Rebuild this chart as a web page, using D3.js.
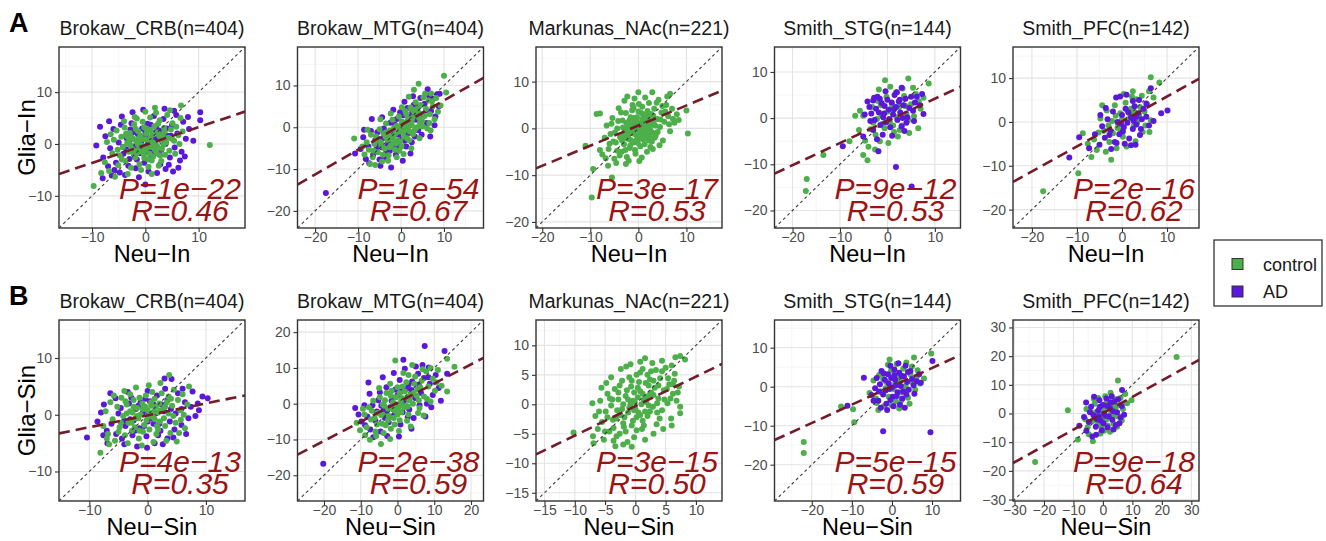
<!DOCTYPE html>
<html>
<head>
<meta charset="utf-8">
<script src="https://cdn.jsdelivr.net/npm/d3@7"></script>
<style>
  body { margin: 0; background: #fff; }
  svg { display: block; }
  text { font-family: "Liberation Sans", Arial, sans-serif; }
</style>
</head>
<body>
<svg id="fig" width="1326" height="541"></svg>
<script>
// ---- cohorts and labels ----
const cohorts = ["Brokaw_CRB(n=404)", "Brokaw_MTG(n=404)", "Markunas_NAc(n=221)", "Smith_STG(n=144)", "Smith_PFC(n=142)"];
const groups = ["control", "AD"];

// ---- intron signal (row A) ----
const inLimits = [[-16.2, 18.7], [-24.1, 19.2], [-21.3, 17.4], [-23.8, 15.4], [-24.2, 17.1]];
const inTicks = [[-10, 0, 10], [-20, -10, 0, 10], [-20, -10, 0, 10], [-20, -10, 0, 10], [-20, -10, 0, 10]];
const inSlope = [0.345, 0.59, 0.43, 0.48, 0.57];
const inIntercept = [-0.2, 0.5, 0.6, -0.6, 0.1];
const inP = ["1e−22", "1e−54", "3e−17", "9e−12", "2e−16"];
const inR = ["0.46", "0.67", "0.53", "0.53", "0.62"];

// ---- splicing signal (row B) ----
const sinLimits = [[-15.2, 16.7], [-27.2, 23.4], [-16.4, 14.3], [-29.3, 17.1], [-30.5, 32.6]];
const sinTicks = [[-10, 0, 10], [-20, -10, 0, 10, 20], [-15, -10, -5, 0, 5, 10], [-20, -10, 0, 10], [-30, -20, -10, 0, 10, 20, 30]];
const sinSlope = [0.21, 0.535, 0.5, 0.47, 0.57];
const sinIntercept = [-0.1, 0.3, -0.3, 0.1, 0.1];
const sinP = ["4e−13", "2e−38", "3e−15", "5e−15", "9e−18"];
const sinR = ["0.35", "0.59", "0.50", "0.59", "0.64"];

// ---- per-sample scores [neuron, glia] ----
const crbInControl = [[-9.7,-8.1],[12.1,-0.2],[1.8,7.0],[6.7,7.4],[1.2,-5.8],[-7.6,-3.5],[-6.8,-5.2],[-6.2,-1.8],[-5.9,0.8],[-5.4,2.6],[-5.1,-4.1],[-4.8,-2.2],[-4.5,1.4],[-4.2,-0.6],[-3.9,3.2],[-3.7,-3.3],[-3.4,0.2],[-3.1,-1.5],[-2.9,2.1],[-2.7,-4.6],[-2.5,-0.9],[-2.3,1.0],[-2.1,3.8],[-1.9,-2.6],[-1.7,0.5],[-1.5,-1.2],[-1.3,2.4],[-1.1,-3.9],[-0.9,1.6],[-0.7,-0.3],[-0.5,4.3],[-0.3,-2.0],[-0.1,0.9],[0.1,-1.1],[0.3,2.9],[0.5,-3.0],[0.7,0.4],[0.9,5.1],[1.1,-0.6],[1.3,1.8],[1.5,-2.4],[1.7,3.4],[1.9,0.1],[2.1,-1.6],[2.3,2.2],[2.5,-4.2],[2.7,4.6],[2.9,0.7],[3.1,-0.9],[3.3,1.9],[3.5,3.1],[3.7,-2.1],[3.9,0.3],[4.1,5.6],[4.3,1.2],[4.5,-1.3],[4.8,2.8],[5.1,4.0],[5.4,0.6],[5.8,3.3],[6.2,1.7],[6.6,5.0],[7.0,2.4],[-8.3,-5.6],[-6.5,1.9],[-5.7,-6.3],[-4.0,4.4],[-3.3,-5.8],[-2.0,5.2],[-0.8,-5.0],[0.0,6.2],[0.6,-4.4],[2.0,6.0],[3.0,-3.3],[4.6,6.5],[5.6,-1.9],[6.4,0.0],[-7.2,0.4],[-1.4,-0.1],[0.4,0.0],[1.0,2.6],[-2.6,1.3],[-0.2,-2.7],[1.6,-0.2],[2.4,3.9],[-1.0,0.7],[3.4,-0.2],[-3.6,2.0],[0.8,-1.9],[-4.4,-3.0],[5.0,1.0],[-1.6,4.9],[2.8,-2.2],[-5.2,-1.1],[-3.0,0.9],[-2.2,-1.9],[-1.2,1.1],[-0.4,-0.9],[0.2,2.0],[1.4,0.3],[2.2,-0.4],[3.2,1.4],[-1.8,2.9],[-0.6,-1.5],[0.9,1.1],[2.6,1.6],[-2.8,-0.2],[1.8,-1.1],[-0.2,3.2],[0.4,-0.6],[-1.6,-1.8],[3.6,2.4],[-3.4,1.5],[1.2,-3.2]];
const crbInAD = [[-8.5,3.3],[-9.2,-0.3],[10.3,6.1],[10.3,4.6],[5.4,6.4],[0.0,-7.8],[-7.9,-2.6],[-7.0,-4.3],[-6.6,-0.8],[-6.0,2.9],[-5.5,-3.6],[-5.0,0.3],[-4.6,3.7],[-4.1,-1.9],[-3.8,-6.0],[-3.5,1.1],[-3.0,-2.9],[-2.6,4.0],[-2.2,-0.5],[-1.8,-4.7],[-1.4,1.9],[-1.0,-1.8],[-0.6,3.0],[-0.2,-3.6],[0.2,1.4],[0.6,-5.3],[1.0,3.7],[1.4,-1.4],[1.8,0.9],[2.2,-5.6],[2.6,2.6],[3.0,-1.1],[3.4,4.8],[3.8,-4.8],[4.2,1.6],[4.6,-2.6],[5.0,3.6],[5.5,-0.7],[6.0,2.0],[6.5,-3.2],[7.1,4.3],[7.6,1.0],[8.2,2.9],[9.0,0.6],[-7.5,1.5],[-6.3,-6.1],[-4.4,5.3],[-2.4,6.1],[-0.4,6.6],[1.6,5.4],[3.6,6.8],[5.8,5.6],[-5.8,-5.0],[-3.2,-4.2],[-1.2,-6.4],[0.8,-2.9],[2.8,-3.9],[4.4,-4.0],[6.8,-1.5],[-8.0,-6.6],[-2.8,2.8],[-0.8,0.2],[1.2,-0.2],[3.2,0.4],[5.2,-5.3],[-4.8,-5.5],[0.4,3.9],[2.4,1.1],[-1.6,-3.0],[4.0,3.0],[-3.6,-1.0],[6.2,-4.6],[7.4,-2.4],[-6.8,4.4],[8.0,5.2],[-2.0,-2.5],[-0.8,1.5],[0.6,-0.9],[1.8,2.2],[2.6,-2.0],[-3.0,0.6],[0.0,2.4],[1.0,0.8],[-1.4,-0.8],[3.8,0.0],[-4.2,-0.6],[2.0,3.3],[-2.4,2.2],[0.2,-1.6],[4.8,1.6]];

const mtgInControl = [[10.0,12.3],[4.1,10.4],[-10.9,-2.7],[-7.2,-8.8],[10.5,8.3],[9.2,5.2],[6.9,-0.8],[-8.5,-6.5],[-8.0,-3.6],[-7.5,-5.4],[-7.0,-1.8],[-6.6,-7.2],[-6.2,-4.0],[-5.8,-2.2],[-5.4,-6.0],[-5.0,-0.5],[-4.7,-3.6],[-4.4,-8.2],[-4.1,-1.5],[-3.8,-5.1],[-3.5,0.9],[-3.2,-3.0],[-2.9,-6.7],[-2.6,-0.8],[-2.3,-4.3],[-2.0,1.8],[-1.7,-2.1],[-1.4,-5.4],[-1.1,0.3],[-0.8,-3.2],[-0.5,2.6],[-0.2,-1.0],[0.1,-4.6],[0.4,1.2],[0.7,-2.3],[1.0,3.8],[1.3,-0.4],[1.6,2.0],[1.9,-3.1],[2.2,4.7],[2.5,0.6],[2.8,-1.6],[3.1,2.8],[3.4,6.0],[3.7,0.0],[4.0,3.6],[4.3,-2.6],[4.6,5.3],[4.9,1.5],[5.2,7.2],[5.5,2.7],[5.8,4.4],[6.1,-0.3],[6.4,6.4],[6.7,3.1],[7.0,8.1],[7.4,5.0],[7.8,1.9],[8.2,7.0],[8.6,3.7],[-9.0,-4.6],[-6.0,-9.0],[-3.0,-8.0],[-1.0,-7.2],[0.6,-6.4],[2.4,-5.0],[-4.8,1.9],[-2.4,3.3],[0.2,4.8],[1.8,7.3],[3.0,9.0],[-5.6,-3.1],[-3.6,-2.3],[-1.6,-0.1],[0.0,0.5],[1.4,1.0],[2.6,2.1],[3.8,4.4],[5.0,0.2],[6.6,1.0],[-7.8,-0.6],[-4.2,-6.6],[-0.4,-5.6],[2.0,-1.0],[4.4,1.0],[-2.2,-2.8],[0.8,0.0],[-1.2,-3.9],[3.2,-0.6],[5.6,8.0],[7.2,6.2],[-6.4,-5.6],[-3.4,-1.2],[1.2,3.2],[-3.0,-1.8],[-1.8,-3.4],[-0.6,0.0],[0.6,-1.0],[1.6,-0.2],[2.4,1.4],[3.4,3.0],[-2.6,-4.8],[-1.2,-1.4],[0.2,1.4],[1.4,-2.6],[-4.6,-4.4],[4.2,2.2],[-0.2,-3.4],[2.8,4.0]];
const mtgInAD = [[-17.5,-15.7],[-10.7,-6.3],[-2.3,-9.6],[8.4,7.9],[8.0,2.6],[-9.4,-5.2],[-8.8,-2.4],[-8.2,-7.6],[-7.6,-4.6],[-7.0,-0.9],[-6.5,-6.6],[-6.0,-3.1],[-5.5,-1.2],[-5.0,-7.7],[-4.5,-4.8],[-4.0,-0.3],[-3.5,-6.2],[-3.0,-2.0],[-2.5,1.1],[-2.0,-4.9],[-1.5,-1.6],[-1.0,2.0],[-0.5,-3.6],[0.0,-0.8],[0.5,2.9],[1.0,-2.0],[1.5,4.6],[2.0,0.4],[2.5,-3.6],[3.0,5.4],[3.5,1.8],[4.0,-0.7],[4.5,7.0],[5.0,3.1],[5.5,5.6],[6.0,1.0],[6.5,7.6],[7.0,3.9],[7.5,6.8],[8.8,5.0],[9.0,8.0],[-4.4,2.4],[-1.8,4.2],[0.8,6.1],[2.8,7.4],[-7.4,-8.6],[-4.8,-9.2],[0.4,-8.0],[2.2,-6.3],[4.8,-1.8],[6.8,-2.2],[-6.8,2.0],[-5.2,-4.4],[-2.8,-3.4],[-0.6,-1.8],[1.6,1.4],[3.6,3.0],[5.8,4.0],[-3.8,-7.3],[-1.2,-6.6],[1.2,-4.6],[3.2,-2.2],[7.8,0.5],[-8.6,-0.6],[6.2,9.1],[-0.2,3.6],[2.4,2.6],[4.2,5.0],[-2.6,-5.6],[-5.8,-5.4],[0.2,-2.9],[-2.2,-1.0],[-0.8,-4.4],[0.4,0.8],[1.8,-1.4],[2.6,3.6],[-3.2,-4.4],[-1.4,0.6],[3.8,2.2],[0.8,-3.2],[-4.2,-2.6]];

const nacInControl = [[-9.7,-14.8],[10.3,-1.1],[10.0,3.8],[-11.0,-3.7],[-9.4,-8.7],[-6.3,-8.0],[-5.5,-10.5],[-8.7,3.1],[-8.0,3.2],[0.0,7.7],[2.9,7.7],[6.6,7.4],[-2.9,5.9],[-7.5,-5.6],[-7.0,-2.0],[-6.6,0.6],[-6.2,-4.4],[-5.8,-1.2],[-5.4,2.2],[-5.0,-6.5],[-4.7,-3.0],[-4.4,0.0],[-4.1,4.3],[-3.8,-1.9],[-3.5,-5.0],[-3.3,1.7],[-3.0,-3.4],[-2.8,-0.4],[-2.6,3.3],[-2.4,-6.1],[-2.2,-2.2],[-2.0,0.9],[-1.8,-4.2],[-1.6,2.4],[-1.4,-1.0],[-1.2,5.0],[-1.0,-3.0],[-0.8,0.3],[-0.6,-5.4],[-0.4,1.9],[-0.2,-1.8],[0.0,3.6],[0.2,-0.6],[0.4,-3.8],[0.6,1.1],[0.8,4.6],[1.0,-2.4],[1.2,0.0],[1.4,2.8],[1.6,-1.2],[1.8,-5.0],[2.0,1.6],[2.2,5.4],[2.4,-0.3],[2.6,3.1],[2.8,-2.8],[3.0,0.8],[3.3,4.2],[3.6,-1.5],[3.9,2.0],[4.2,6.1],[4.5,0.3],[4.8,3.4],[5.1,-2.6],[5.4,1.4],[5.8,5.0],[6.2,2.6],[6.6,-0.6],[7.0,4.2],[7.5,1.2],[8.0,3.0],[-3.6,3.4],[-2.0,-6.9],[-0.8,6.4],[1.4,6.6],[3.0,-4.4],[4.4,-3.6],[-4.6,-7.4],[-6.8,-6.4],[-1.6,-2.5],[-0.9,-0.8],[0.3,0.8],[0.9,-1.0],[-0.3,2.4],[1.7,0.4],[-2.5,1.2],[2.3,-1.7],[-1.1,1.4],[0.5,-2.0],[-0.5,-0.2],[1.1,1.9],[-1.9,-0.7],[2.7,1.0],[-3.1,-1.3],[3.5,0.6],[0.1,5.2],[-0.7,-4.6],[1.9,3.7],[-2.7,-4.6],[4.0,-0.8],[-4.2,1.6],[2.5,-4.0],[-1.3,3.9],[5.6,3.6],[6.0,6.8],[-5.2,-2.8],[-3.9,-5.8],[0.7,-6.2],[3.8,5.5],[-2.3,6.8],[1.3,-3.4],[-0.1,-3.1],[2.1,2.3],[-1.5,0.5],[0.6,3.3],[-2.1,-1.5],[3.1,2.7],[-0.4,0.9],[1.5,-0.6],[-3.4,-2.6],[4.6,1.9],[-1.7,-3.7],[2.9,-0.9],[-4.9,-0.9],[6.4,0.9],[-6.0,-3.3],[7.2,2.0],[-2.6,-7.6],[0.2,-7.0],[-4.4,-4.8],[5.0,4.8],[8.4,1.8],[-8.0,-4.6],[-5.6,1.0],[3.4,-2.0],[-1.0,4.4],[-1.5,-0.4],[-0.6,1.4],[0.4,-1.4],[1.3,1.2],[-2.1,0.4],[0.8,2.0],[-0.3,-2.4],[2.0,0.6],[-1.0,2.2],[1.6,-2.0],[-2.4,-1.0],[0.0,0.2],[2.6,-0.6],[-0.8,-1.2],[1.0,3.0],[-1.8,1.8],[0.2,-1.0],[3.2,1.6],[-2.8,-2.0],[0.6,0.4],[-0.2,1.2],[1.8,2.6],[-1.2,-2.8],[2.2,-2.6],[-3.2,0.2]];

const stgInControl = [[-17.0,-13.2],[-17.2,-15.8],[-13.5,-8.0],[-6.8,0.5],[-5.8,1.6],[-5.1,0.5],[-4.7,-4.9],[-5.1,-8.0],[-4.2,-9.1],[-0.5,8.2],[4.4,8.6],[8.7,7.5],[6.5,-2.2],[-2.0,3.7],[-3.6,-2.4],[-3.0,-1.0],[-2.5,-3.6],[-1.6,-5.0],[-1.2,0.6],[-0.6,-2.2],[0.0,1.4],[0.5,-0.8],[1.0,3.0],[1.4,-3.0],[2.0,0.2],[2.5,2.4],[3.0,-1.6],[3.5,4.8],[4.0,1.0],[4.6,-3.2],[5.0,3.0],[5.6,0.4],[6.0,5.2],[7.0,2.0],[-1.8,6.2],[1.8,5.6],[3.2,6.4],[-4.0,-6.2],[-2.6,-6.8],[0.2,-5.4],[2.6,-2.6],[-1.0,-1.2],[0.8,2.0],[4.4,-0.4],[-3.2,2.4],[5.4,6.6],[-0.2,4.6],[2.2,-4.0],[6.6,3.6],[-6.0,-2.6],[1.2,-1.6],[3.8,2.6],[-2.2,-0.2],[7.6,4.4],[-8.0,-5.0],[0.6,6.8],[-1.4,2.8]];
const stgInAD = [[-9.4,-6.1],[-5.1,-4.0],[-1.9,-7.2],[1.8,-10.6],[5.1,-14.8],[3.0,6.6],[7.6,0.9],[7.3,5.2],[-4.2,3.6],[-3.8,2.4],[-3.4,1.0],[-3.0,3.8],[-2.7,-0.4],[-2.4,2.0],[-2.1,4.6],[-1.8,1.2],[-1.5,-1.5],[-1.2,3.2],[-0.9,0.2],[-0.6,2.6],[-0.3,-0.9],[0.0,4.0],[0.3,1.8],[0.6,-2.0],[0.9,3.4],[1.2,0.8],[1.5,5.0],[1.8,2.4],[2.1,-0.4],[2.4,3.6],[2.7,1.2],[3.0,-1.8],[3.4,2.8],[3.8,4.2],[4.2,0.2],[4.6,2.2],[5.0,4.6],[5.4,1.6],[5.8,3.4],[6.2,4.6],[6.8,2.8],[-3.0,-2.6],[-1.0,-3.6],[1.0,-3.8],[3.6,-2.8],[-4.8,0.8],[-0.4,5.8],[2.0,5.6],[-2.2,-4.6],[0.4,-0.2],[-1.6,4.2],[2.6,4.0],[4.0,-1.0],[-3.6,-0.6],[1.4,1.9],[-0.7,1.0],[5.6,-0.6],[3.2,0.0],[-2.8,4.4]];

const pfcInControl = [[-17.5,-15.8],[-9.7,-11.7],[-8.7,-2.6],[-2.4,-8.6],[6.4,10.2],[8.3,9.0],[4.6,-2.3],[6.1,-2.3],[-7.6,-5.0],[-6.2,-4.0],[-5.6,-6.4],[-4.8,0.8],[-4.0,-2.0],[-3.4,2.6],[-2.8,-4.6],[-2.2,0.2],[-1.6,3.8],[-1.0,-1.4],[-0.4,2.0],[0.2,-3.4],[0.8,4.4],[1.4,0.6],[2.0,3.0],[2.6,-1.0],[3.2,5.2],[3.8,1.6],[4.4,6.0],[5.0,2.4],[5.6,4.0],[6.4,0.4],[7.0,5.6],[0.4,6.4],[2.4,7.0],[-1.2,-6.0],[1.0,-5.6],[3.0,-4.4],[-3.6,-6.8],[0.0,0.6],[1.8,1.8],[-0.8,-0.6],[2.8,2.2],[4.0,3.4],[-2.0,-2.6],[-5.2,-2.4],[-6.8,-8.0],[1.2,2.8],[3.4,0.0],[-0.2,-2.0],[5.2,-0.8],[-4.4,3.8],[2.2,5.8],[-1.4,1.4],[6.0,7.0],[-3.0,-0.8]];
const pfcInAD = [[-11.7,-8.1],[-9.5,-3.5],[-7.3,-6.0],[6.4,7.7],[10.1,2.6],[8.7,2.0],[-1.3,5.6],[-0.4,5.8],[2.0,-5.3],[-6.0,-2.8],[-5.0,-5.2],[-4.4,-1.0],[-3.8,-3.6],[-3.2,0.6],[-2.6,-2.0],[-2.0,2.4],[-1.6,-4.6],[-1.0,0.0],[-0.6,-2.8],[0.0,1.6],[0.4,-1.2],[0.8,3.0],[1.2,-0.2],[1.6,-3.8],[2.0,1.0],[2.4,-1.6],[2.8,3.6],[3.2,-0.6],[3.6,2.0],[4.0,-3.0],[4.4,0.6],[4.8,3.0],[5.4,1.2],[6.0,-0.8],[7.0,0.2],[-2.4,-6.2],[-1.2,-4.8],[0.6,-5.0],[3.0,-5.2],[2.4,4.8],[3.8,5.0],[1.0,6.2],[-3.6,3.2],[-4.8,1.6],[5.4,4.2],[-0.2,-0.4],[1.4,2.2],[3.2,1.2],[-2.8,-3.0],[4.2,-1.6],[0.2,-2.2],[2.6,0.2]];

const crbSinControl = [[-8.1,-6.7],[5.0,-4.7],[7.1,5.0],[3.7,7.0],[5.7,-0.9],[-7.6,-2.0],[-7.2,0.6],[-6.8,-3.4],[-6.4,2.2],[-6.0,-0.8],[-5.6,-4.6],[-5.2,1.4],[-4.8,-2.2],[-4.5,3.0],[-4.2,-0.2],[-3.9,-3.6],[-3.6,1.8],[-3.3,-1.4],[-3.0,0.6],[-2.7,-2.8],[-2.4,2.6],[-2.1,-0.6],[-1.8,1.2],[-1.5,-4.2],[-1.2,0.0],[-0.9,2.0],[-0.6,-1.8],[-0.3,3.4],[0.0,0.8],[0.3,-2.6],[0.6,1.6],[0.9,-0.4],[1.2,2.8],[1.5,-3.4],[1.8,0.4],[2.1,-1.2],[2.4,3.8],[2.7,1.0],[3.0,-2.0],[3.3,2.2],[3.6,0.2],[3.9,-3.2],[4.2,1.6],[4.5,4.4],[4.8,-1.4],[5.2,2.6],[5.6,0.8],[6.0,3.6],[6.4,-2.4],[6.8,1.8],[-5.8,3.4],[-4.0,4.2],[-2.0,4.8],[0.2,5.2],[2.2,5.6],[-3.4,-5.0],[-1.0,-5.4],[1.0,-4.8],[3.2,-4.6],[-6.6,-5.2],[-0.8,-3.0],[0.5,0.2],[-1.6,-0.6],[1.4,1.4],[-2.6,0.4],[2.8,-0.6],[-4.6,-1.4],[4.0,2.8],[-0.2,-1.0],[1.6,-2.0],[-3.8,2.4],[3.6,3.2],[-1.4,3.0],[0.8,4.0],[-5.0,-3.0],[5.4,-3.2],[6.2,0.0],[-7.0,-4.2],[-2.2,-2.2],[2.0,2.0],[-0.4,1.4],[1.1,0.6],[-3.0,3.6],[4.4,-0.2],[-2.8,-1.4],[-1.8,-0.2],[-0.8,1.0],[0.2,-0.2],[1.2,-0.8],[2.2,0.8],[-3.6,0.2],[-1.4,-2.8],[0.6,2.2],[1.8,-2.6],[-2.4,1.4],[3.0,1.4]];
const crbSinAD = [[-10.4,-4.0],[9.4,3.2],[10.3,2.9],[8.6,2.0],[7.7,4.1],[2.9,6.4],[4.1,6.3],[-0.1,-5.8],[-6.9,-5.0],[-7.5,1.8],[-5.5,2.9],[-8.6,-1.2],[-8.0,0.4],[-7.0,-2.8],[-6.2,-1.6],[-5.0,0.2],[-4.4,-4.2],[-3.8,-2.0],[-3.2,2.0],[-2.6,-3.6],[-2.0,1.0],[-1.4,-2.4],[-0.8,0.4],[-0.2,-3.8],[0.4,2.4],[1.0,-1.6],[1.6,3.4],[2.2,-2.8],[2.8,0.6],[3.4,-4.2],[4.0,1.0],[4.6,-2.6],[5.2,3.8],[5.8,-1.8],[6.4,2.2],[7.0,-0.6],[7.4,1.4],[8.2,-0.2],[-4.0,-5.2],[-1.8,-5.6],[1.2,-5.0],[4.4,-4.0],[-6.4,3.8],[-3.4,4.0],[0.0,4.2],[3.0,4.6],[6.0,4.6],[-5.4,-3.4],[-2.4,-1.0],[0.8,-0.6],[2.4,1.8],[4.8,0.2],[-1.2,2.2],[1.8,-3.6],[5.8,1.0],[-7.6,-3.6],[3.8,-1.2],[-0.6,-2.0],[6.6,-3.4],[8.8,0.8],[-4.6,1.2],[2.6,-5.2],[-2.8,3.0],[0.2,0.0],[-3.0,-0.8],[-1.6,1.6],[0.0,-1.2],[1.4,0.2],[2.0,-1.6],[-2.2,-2.8],[3.4,2.6],[-0.4,2.8],[-4.0,-1.0],[1.0,1.8]];

const mtgSinControl = [[13.5,12.6],[15.5,10.3],[13.5,3.4],[-0.6,12.1],[-11.1,-5.3],[-4.5,-11.3],[-7.5,-10.1],[-2.0,-9.9],[7.1,-3.3],[-9.0,-3.0],[-8.4,-6.6],[-7.8,-1.0],[-7.2,-4.4],[-6.6,0.8],[-6.0,-7.8],[-5.4,-2.6],[-4.8,1.8],[-4.2,-5.6],[-3.6,-0.6],[-3.0,3.0],[-2.4,-3.4],[-1.8,-7.0],[-1.2,0.4],[-0.6,-2.0],[0.0,4.6],[0.6,-4.6],[1.2,1.6],[1.8,-1.0],[2.4,6.0],[3.0,-3.0],[3.6,2.8],[4.2,0.0],[4.8,7.6],[5.4,4.0],[6.0,-1.2],[6.6,6.4],[7.2,2.0],[7.8,9.0],[8.4,4.8],[9.0,0.6],[9.6,7.0],[10.2,3.6],[11.0,9.4],[-6.2,-4.0],[-3.2,-6.0],[-1.0,-4.0],[1.0,-2.4],[3.2,1.0],[5.2,2.2],[-5.0,4.4],[-2.0,5.6],[1.6,8.6],[4.0,10.8],[-8.8,-8.8],[-5.8,-9.0],[0.4,-7.6],[3.6,-6.4],[-3.8,-8.2],[-0.4,1.8],[2.0,3.4],[-2.6,-1.4],[0.8,0.0],[-1.6,3.6],[2.8,-0.8],[6.2,4.6],[8.0,1.4],[-4.4,-3.2],[-7.0,-2.0],[0.2,-1.2],[1.4,4.8],[4.6,5.6],[10.6,6.0],[-10.2,-7.4],[-4.0,-0.2],[-0.8,-5.8],[2.6,-4.8],[5.6,-2.6],[3.0,8.0],[6.8,9.6],[-9.4,-1.4],[12.0,5.0],[9.0,10.0],[-4.0,-3.0],[-2.6,-4.6],[-1.2,-1.6],[0.0,-3.0],[1.0,0.8],[2.2,-0.6],[3.4,2.2],[-3.4,1.0],[-1.8,2.2],[0.6,3.0],[4.4,3.0],[-5.6,-5.8],[2.6,1.6],[-0.4,-0.4],[5.8,1.0]];
const mtgSinAD = [[-20.2,-16.8],[7.4,16.1],[12.8,14.7],[13.5,8.4],[1.6,12.3],[-7.9,5.9],[-11.5,-1.2],[8.5,10.1],[-9.8,-5.0],[-9.0,-0.4],[-8.2,-3.6],[-7.4,-7.2],[-6.8,-0.4],[-6.0,-4.8],[-5.2,1.0],[-4.6,-7.8],[-3.8,-1.8],[-3.0,4.6],[-2.4,-5.2],[-1.6,0.8],[-0.8,-3.0],[0.0,2.4],[0.8,-5.8],[1.6,0.6],[2.4,4.2],[3.2,-1.6],[4.0,6.2],[4.8,1.6],[5.6,8.4],[6.4,3.0],[7.2,7.2],[8.0,0.0],[8.8,5.6],[9.6,2.4],[10.4,8.0],[11.2,4.4],[-4.0,7.4],[-1.0,8.6],[2.0,9.8],[5.0,10.4],[-6.6,-9.4],[-2.8,-9.0],[0.4,-9.2],[4.4,-4.0],[7.6,-3.6],[-7.6,2.8],[-5.6,-2.2],[-3.4,-4.0],[-1.2,1.6],[1.0,3.4],[3.0,5.2],[5.8,5.4],[8.4,7.4],[-8.8,-6.0],[-2.0,-1.0],[2.8,-3.8],[6.0,-0.4],[9.2,-1.0],[-4.8,3.2],[0.6,6.6],[3.8,-7.0],[11.8,0.8],[-10.6,-3.0],[6.8,10.8],[-0.2,-1.4],[-3.0,-2.8],[-1.4,-3.6],[0.2,-0.6],[1.4,-2.4],[2.8,1.2],[-4.4,-0.6],[3.8,3.8],[-0.6,4.0]];

const nacSinControl = [[-10.2,-4.8],[-7.1,0.2],[-6.9,-6.6],[-3.3,-7.1],[7.4,-1.5],[7.4,-0.4],[6.6,8.0],[7.4,8.2],[8.2,7.6],[1.6,7.8],[-1.5,6.4],[-7.0,-5.4],[-6.6,-2.0],[-6.2,-4.2],[-5.8,0.6],[-5.5,-3.0],[-5.2,-6.0],[-4.9,-1.2],[-4.6,1.8],[-4.3,-4.6],[-4.0,-0.2],[-3.7,-2.6],[-3.4,2.6],[-3.1,-5.4],[-2.8,0.8],[-2.5,-1.8],[-2.2,4.0],[-1.9,-3.8],[-1.6,1.4],[-1.3,-6.4],[-1.0,-0.6],[-0.7,3.0],[-0.4,-2.8],[-0.1,0.4],[0.2,5.0],[0.5,-1.4],[0.8,2.2],[1.1,-4.2],[1.4,0.8],[1.7,3.6],[2.0,-2.0],[2.3,1.6],[2.6,5.6],[2.9,-0.4],[3.2,2.8],[3.5,-3.4],[3.8,1.0],[4.1,4.4],[4.4,-1.0],[4.7,2.4],[5.0,6.2],[5.3,0.2],[5.6,3.4],[5.9,-2.4],[6.2,1.8],[6.5,5.2],[6.8,0.6],[7.2,3.0],[-5.6,2.8],[-4.0,4.6],[-2.4,6.0],[-0.8,6.8],[0.8,7.2],[2.8,7.0],[4.4,7.4],[-2.0,-6.8],[-0.2,-5.6],[1.6,-6.0],[3.0,-5.0],[4.6,-4.2],[6.0,-3.6],[-1.2,-1.4],[0.0,-0.8],[1.0,0.0],[-2.0,0.0],[0.4,1.2],[-0.6,-3.6],[1.2,-2.8],[2.2,3.2],[-3.0,-1.0],[3.6,0.2],[-1.4,2.4],[0.6,3.8],[2.4,-1.2],[-0.2,2.0],[1.8,1.2],[-1.0,4.6],[-3.6,-4.0],[3.0,4.0],[5.4,4.4],[-4.6,-2.2],[-2.6,-5.0],[0.2,-4.4],[4.0,-2.4],[5.8,1.0],[-6.0,-1.2],[6.4,4.0],[-3.8,0.8],[2.0,5.0],[-1.8,-2.2],[1.4,-3.6],[-0.4,0.6],[0.8,-1.8],[2.6,2.0],[-2.8,2.0],[4.8,0.8],[-5.0,-4.6],[1.2,6.0],[3.4,5.8],[-0.6,-7.2],[7.0,2.0],[-4.8,3.6],[6.0,6.6],[-3.2,-2.4],[-2.2,-0.8],[-1.6,-4.6],[-0.8,0.0],[0.2,-2.2],[1.2,1.8],[2.2,-0.2],[3.0,1.6],[-2.6,3.2],[-0.6,4.0],[0.8,5.4],[2.4,4.2],[3.8,3.2],[4.4,5.6],[-4.2,1.0],[-1.2,0.8],[1.6,-1.2],[0.4,2.8],[-2.0,-3.2],[3.6,-1.4],[5.2,2.6],[-3.6,-6.2],[1.8,0.4],[-0.2,-1.0],[6.2,3.4]];

const stgSinControl = [[-22.0,-14.2],[-22.0,-17.0],[-12.7,-5.1],[-9.7,-5.8],[-9.4,-9.1],[9.8,8.5],[5.5,7.5],[-0.6,7.0],[8.0,2.1],[-4.6,1.6],[-3.8,-4.2],[-3.2,3.0],[-2.6,-1.2],[-2.0,-5.0],[-1.4,1.2],[-0.8,-2.6],[-0.2,4.2],[0.4,-0.6],[1.0,-3.8],[1.6,2.4],[2.2,-1.4],[2.8,4.6],[3.4,0.2],[4.0,-2.8],[4.6,3.2],[5.2,1.0],[5.8,-0.8],[6.4,4.2],[7.0,0.8],[-1.0,5.6],[1.2,5.8],[3.6,6.2],[-4.0,-3.0],[0.0,-4.8],[2.4,-3.4],[-2.2,2.0],[0.8,0.8],[3.0,-0.2],[4.4,-4.4],[-5.6,-1.6],[-3.4,-6.0],[1.8,-5.6],[6.2,2.6],[-1.6,-0.4],[2.0,1.6],[5.0,5.2]];
const stgSinAD = [[-11.1,-4.9],[-2.2,-11.4],[9.6,-11.7],[10.1,6.6],[-7.0,2.3],[-5.1,-2.1],[-4.2,-0.4],[-3.8,2.2],[-3.4,-3.6],[-3.0,0.6],[-2.6,4.0],[-2.2,-2.0],[-1.8,1.8],[-1.4,-4.4],[-1.0,3.2],[-0.6,-0.6],[-0.2,2.2],[0.2,-2.6],[0.6,4.4],[1.0,0.4],[1.4,-1.4],[1.8,3.6],[2.2,0.2],[2.6,-3.0],[3.0,2.6],[3.4,5.4],[3.8,1.2],[4.2,-0.8],[4.6,4.0],[5.0,2.0],[5.6,-1.8],[6.2,1.4],[6.8,3.2],[-2.8,-5.4],[-1.2,-6.0],[0.4,-5.0],[2.0,-4.6],[-0.4,5.4],[1.6,6.0],[3.2,-5.4],[-4.6,-3.6],[-3.2,-1.2],[-0.8,0.8],[0.8,1.8],[2.4,2.8],[4.0,3.8],[-1.6,-1.0],[0.0,-0.2],[1.2,-2.4],[2.8,-1.2],[5.4,0.4],[-2.0,3.4],[0.6,3.0],[-0.4,-3.4],[3.6,-2.0],[7.2,1.0]];

const pfcSinControl = [[25.0,19.7],[-11.9,1.1],[-23.0,-16.9],[-8.5,-9.1],[-3.4,-9.7],[5.1,11.5],[9.7,4.6],[-5.2,-4.8],[-4.4,0.8],[-3.6,-2.6],[-2.8,3.4],[-2.0,-1.2],[-1.2,2.0],[-0.4,-4.4],[0.4,1.0],[1.2,-2.0],[2.0,4.4],[2.8,0.0],[3.6,-3.6],[4.4,2.4],[5.2,-1.0],[6.0,5.4],[6.8,1.6],[7.6,6.8],[-1.6,5.4],[0.8,6.0],[2.4,-6.4],[-0.8,-7.0],[-4.8,-7.2],[1.6,-4.2],[3.2,2.6],[-2.4,0.4],[0.0,-1.6],[4.8,-4.6],[-6.0,-2.0],[2.6,7.2],[-3.0,5.0],[5.8,3.0],[1.0,3.4],[-1.8,-3.8],[3.8,-0.8],[-0.2,0.2],[4.2,5.0],[6.4,-2.4],[0.4,-6.0],[-5.6,1.6],[8.2,3.6]];
const pfcSinAD = [[-8.0,-4.3],[6.5,8.2],[-5.7,3.8],[-2.3,-7.4],[-6.4,-1.2],[-5.6,-6.0],[-4.8,-3.0],[-4.0,2.4],[-3.2,-0.6],[-2.4,-4.6],[-1.6,1.0],[-0.8,-2.4],[0.0,3.0],[0.8,-0.8],[1.6,-4.8],[2.4,1.8],[3.2,-2.2],[4.0,4.2],[4.8,0.4],[5.6,-3.4],[6.4,2.6],[7.2,-0.4],[-1.2,4.6],[1.2,5.2],[3.0,6.0],[-3.6,-8.0],[-0.4,-5.8],[3.6,-5.6],[-2.0,-2.0],[0.4,0.0],[2.0,-1.0],[-1.0,2.4],[1.4,2.6],[3.4,0.8],[-4.4,0.4],[5.2,5.0],[-3.0,5.8],[6.0,-1.4],[0.2,-3.4],[2.6,3.8],[-1.4,-1.0],[4.4,-4.0]];

// ---- figure setup ----
const svg = d3.select("#fig");
const panelW = 186, panelH = 181;
const rowTop = [47, 320];
const colLeft = i => 59 + i * 238.5;
const fill = { control: "#4DAF4A", AD: "#5B17DB" };
// Brokaw cohorts draw controls last, Smith cohorts draw AD last
const adLast = [false, false, false, true, true];

const rows = [
  { tag: "A", xTitle: "Neu−In", yTitle: "Glia−In", limits: inLimits, ticks: inTicks,
    slope: inSlope, intercept: inIntercept, p: inP, r: inR,
    control: [crbInControl, mtgInControl, nacInControl, stgInControl, pfcInControl],
    ad: [crbInAD, mtgInAD, [], stgInAD, pfcInAD] },
  { tag: "B", xTitle: "Neu−Sin", yTitle: "Glia−Sin", limits: sinLimits, ticks: sinTicks,
    slope: sinSlope, intercept: sinIntercept, p: sinP, r: sinR,
    control: [crbSinControl, mtgSinControl, nacSinControl, stgSinControl, pfcSinControl],
    ad: [crbSinAD, mtgSinAD, [], stgSinAD, pfcSinAD] }
];

const fmt = d3.format("");

rows.forEach((row, ri) => {
  const top = rowTop[ri];

  svg.append("text")
    .attr("x", 9).attr("y", top - 15)
    .attr("font-size", 27).attr("font-weight", "bold").attr("fill", "#000")
    .text(row.tag);

  // shared y-axis title on the first column
  svg.append("text")
    .attr("transform", `translate(35,${top + panelH / 2}) rotate(-90)`)
    .attr("text-anchor", "middle")
    .attr("font-size", 24).attr("fill", "#000")
    .text(row.yTitle);

  cohorts.forEach((name, ci) => {
    const left = colLeft(ci);
    const lim = row.limits[ci];
    const x = d3.scaleLinear().domain(lim).range([0, panelW]);
    const y = d3.scaleLinear().domain(lim).range([panelH, 0]);
    const g = svg.append("g").attr("transform", `translate(${left},${top})`);
    const clipId = `clip-${ri}-${ci}`;
    g.append("clipPath").attr("id", clipId)
      .append("rect").attr("width", panelW).attr("height", panelH);

    g.append("rect").attr("width", panelW).attr("height", panelH).attr("fill", "#fff");

    // grid: minor lines half-way between breaks, major lines at breaks
    const ticks = row.ticks[ci];
    const step = ticks[1] - ticks[0];
    const minor = d3.range(ticks[0] - step / 2, ticks[ticks.length - 1] + step, step)
      .filter(v => v > lim[0] && v < lim[1]);
    const grid = g.append("g");
    [[minor, "#f0f0f0", 0.6], [ticks, "#e3e3e3", 1.1]].forEach(([vals, col, w]) => {
      grid.selectAll(null).data(vals).join("line")
        .attr("x1", d => x(d)).attr("x2", d => x(d)).attr("y1", 0).attr("y2", panelH)
        .attr("stroke", col).attr("stroke-width", w);
      grid.selectAll(null).data(vals).join("line")
        .attr("y1", d => y(d)).attr("y2", d => y(d)).attr("x1", 0).attr("x2", panelW)
        .attr("stroke", col).attr("stroke-width", w);
    });

    const plot = g.append("g").attr("clip-path", `url(#${clipId})`);

    // samples
    const ctl = row.control[ci].map(d => ({ v: d, grp: "control" }));
    const ad = row.ad[ci].map(d => ({ v: d, grp: "AD" }));
    const pts = adLast[ci] ? ctl.concat(ad) : ad.concat(ctl);
    plot.selectAll(null).data(pts).join("circle")
      .attr("cx", d => x(d.v[0])).attr("cy", d => y(d.v[1]))
      .attr("r", 3.0)
      .attr("fill", d => fill[d.grp]);

    // identity line
    plot.append("line")
      .attr("x1", x(lim[0])).attr("y1", y(lim[0]))
      .attr("x2", x(lim[1])).attr("y2", y(lim[1]))
      .attr("stroke", "#3a3a3a").attr("stroke-width", 1.1).attr("stroke-dasharray", "3,3");

    // least-squares fit
    const a = row.intercept[ci], b = row.slope[ci];
    const fitLine = d3.line().x(d => x(d)).y(d => y(a + b * d));
    plot.append("path")
      .attr("d", fitLine(lim))
      .attr("fill", "none").attr("stroke", "#741a2b")
      .attr("stroke-width", 2.6).attr("stroke-dasharray", "11,6");

    // P and R annotation
    const ann = g.append("g").attr("fill", "#9a1414").attr("font-size", 30)
      .attr("font-style", "italic").attr("text-anchor", "middle");
    ann.append("text").attr("x", 121).attr("y", panelH - 29).text("P=" + row.p[ci]);
    ann.append("text").attr("x", 121).attr("y", panelH - 7).text("R=" + row.r[ci]);

    // axes
    const styleAxis = sel => {
      sel.select(".domain").remove();
      sel.selectAll(".tick line").attr("stroke", "#333").attr("stroke-width", 1.1);
      sel.selectAll(".tick text").attr("fill", "#4d4d4d").attr("font-size", 14)
        .attr("font-family", "'Liberation Sans', Arial, sans-serif");
    };
    g.append("g").attr("transform", `translate(0,${panelH})`)
      .call(d3.axisBottom(x).tickValues(ticks).tickSize(4).tickPadding(0.5).tickFormat(fmt))
      .call(styleAxis);
    g.append("g")
      .call(d3.axisLeft(y).tickValues(ticks).tickSize(4).tickPadding(3).tickFormat(fmt))
      .call(styleAxis);

    // panel border
    g.append("rect").attr("width", panelW).attr("height", panelH)
      .attr("fill", "none").attr("stroke", "#333").attr("stroke-width", 1.4);

    // titles
    g.append("text").attr("x", panelW / 2).attr("y", -12)
      .attr("text-anchor", "middle").attr("font-size", 19.5).attr("fill", "#1a1a1a")
      .text(name);
    g.append("text").attr("x", panelW / 2).attr("y", panelH + 34)
      .attr("text-anchor", "middle").attr("font-size", 23.5).attr("fill", "#000")
      .text(row.xTitle);
  });
});

// ---- legend ----
const legend = svg.append("g").attr("transform", "translate(1214,240)");
legend.append("rect").attr("width", 108).attr("height", 66)
  .attr("fill", "#fff").attr("stroke", "#222").attr("stroke-width", 1.2);
groups.forEach((grp, i) => {
  const cy = 24 + i * 27.5;
  legend.append("rect").attr("x", 18).attr("y", cy - 5.5).attr("width", 11).attr("height", 11)
    .attr("fill", fill[grp]).attr("stroke", "#333").attr("stroke-width", 1);
  legend.append("text").attr("x", 49).attr("y", cy + 6.5)
    .attr("font-size", 18).attr("fill", "#1a1a1a").text(grp);
});
</script>
</body>
</html>
